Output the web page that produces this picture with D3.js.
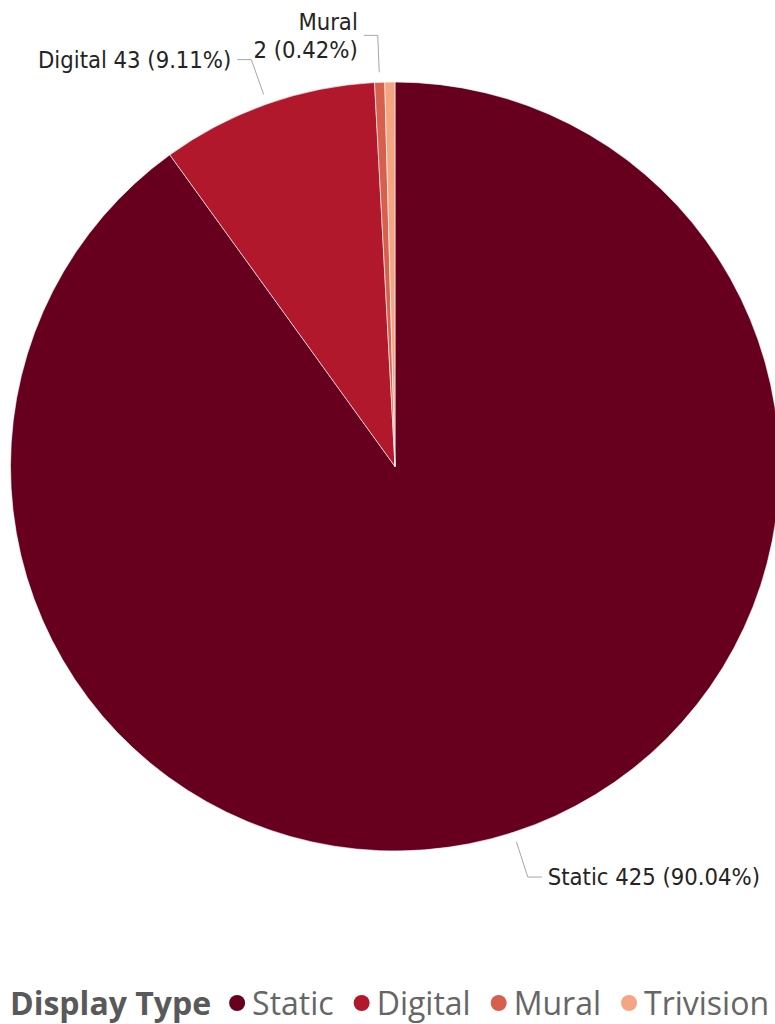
<!DOCTYPE html>
<html>
<head>
<meta charset="utf-8">
<script src="https://cdn.jsdelivr.net/npm/d3@7"></script>
<style>
  body { margin: 0; background: #fff; }
  svg { display: block; }
</style>
</head>
<body>
<svg id="chart" width="775" height="1024"></svg>
<script>
// data
var categories = ["Static", "Digital", "Mural", "Trivision"];
var counts = [425, 43, 2, 2];
var colors = ["#67001f", "#b2182b", "#d6604d", "#f4a582"];
var legendTitle = "Display Type";

var svg = d3.select("#chart"),
    cx = 395, cy = 466.5, radius = 384.5;

var total = d3.sum(counts);
var data = categories.map(function (c, i) {
    return {name: c, value: counts[i], color: colors[i]};
});

var pie = d3.pie()
    .sort(null)
    .value(function (d) { return d.value; });

var arc = d3.arc()
    .innerRadius(0)
    .outerRadius(radius);

var g = svg.append("g")
    .attr("transform", "translate(" + cx + "," + cy + ")");

var arcs = pie(data);

g.selectAll("path.slice")
    .data(arcs)
    .enter()
    .append("path")
    .attr("class", "slice")
    .attr("fill", function (d) { return d.data.color; })
    .attr("stroke", "#fff")
    .attr("stroke-width", 0.6)
    .attr("d", arc);

// labels (Trivision is hidden, as in the original, because it overlaps Mural)
var fmt = d3.format(".2f");
function labelText(d) {
    return d.data.value + " (" + fmt(d.data.value / total * 100) + "%)";
}

var labelFont = "'DejaVu Sans Condensed', 'DejaVu Sans', sans-serif";
var labelled = arcs.filter(function (d) { return d.data.name !== "Trivision"; });

labelled.forEach(function (d) {
    var mid = (d.startAngle + d.endAngle) / 2;
    var sx = Math.sin(mid), sy = -Math.cos(mid);
    var r1 = radius + 10, r2 = radius + 47;
    var p1 = [sx * r1, sy * r1], p2 = [sx * r2, sy * r2];
    var dir = sx >= 0 ? 1 : -1;
    var p3 = [p2[0] + dir * 14, p2[1]];

    g.append("polyline")
        .attr("points", [p1, p2, p3].map(function (p) { return p.join(","); }).join(" "))
        .attr("fill", "none")
        .attr("stroke", "#a6a6a6")
        .attr("stroke-width", 1);

    var t = g.append("text")
        .attr("text-anchor", dir > 0 ? "start" : "end")
        .attr("font-family", labelFont)
        .attr("font-size", 23.6)
        .attr("fill", "#252423");

    if (d.data.name === "Mural") {
        // wrapped onto two lines, right-aligned
        t.append("tspan").attr("x", p3[0] - 6).attr("y", p3[1] - 14).attr("dy", "0.35em").text(d.data.name);
        t.append("tspan").attr("x", p3[0] - 6).attr("y", p3[1] + 14).attr("dy", "0.35em").text(labelText(d));
    } else {
        t.attr("x", p3[0] + dir * 6)
            .attr("y", p3[1])
            .attr("dy", "0.35em")
            .text(d.data.name + " " + labelText(d));
    }
});

// legend
var legendFont = "'Open Sans', sans-serif";
var legend = svg.append("g").attr("transform", "translate(10,1015)");
var lx = 0;
var title = legend.append("text")
    .attr("x", lx)
    .attr("font-family", legendFont)
    .attr("font-weight", "bold")
    .attr("font-size", 32)
    .attr("fill", "#595959")
    .text(legendTitle);
lx += title.node().getComputedTextLength() + 26;

data.forEach(function (d, i) {
    legend.append("circle")
        .attr("cx", lx)
        .attr("cy", -12)
        .attr("r", 8)
        .attr("fill", d.color);
    var t = legend.append("text")
        .attr("x", lx + 15)
        .attr("font-family", legendFont)
        .attr("font-size", 32)
        .attr("fill", "#666666")
        .text(d.name);
    lx += 15 + t.node().getComputedTextLength() + 28;
});
</script>
</body>
</html>
